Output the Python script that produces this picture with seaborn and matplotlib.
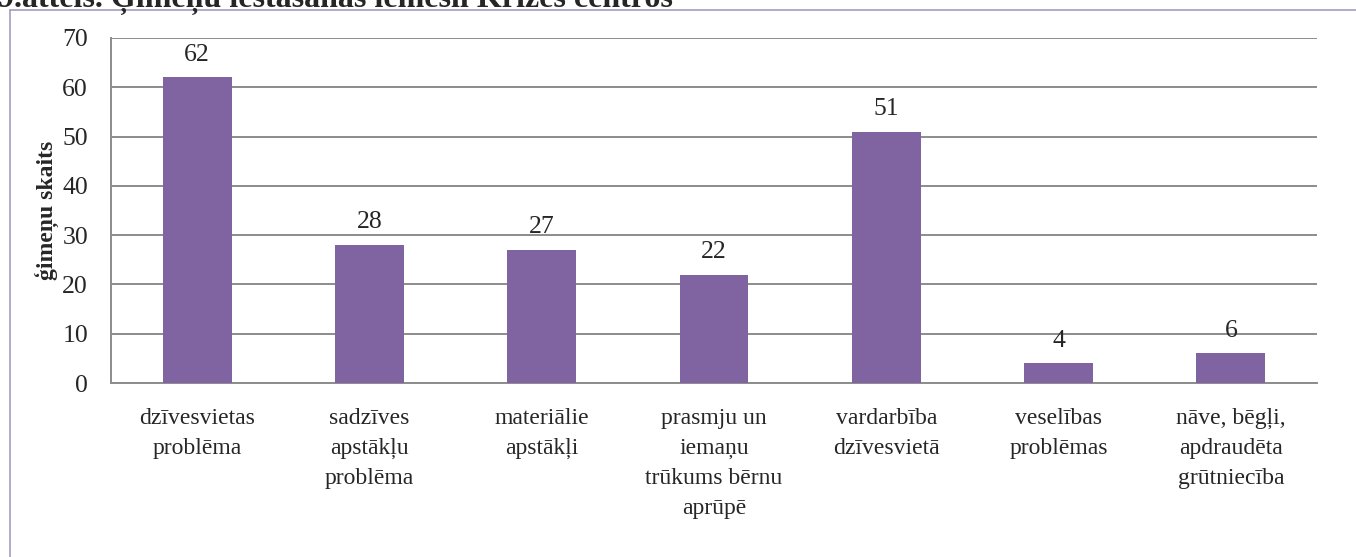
import matplotlib
matplotlib.use("Agg")
import matplotlib.pyplot as plt
import seaborn as sns
import pandas as pd
from matplotlib.lines import Line2D

categories = [
    "dzīvesvietas\nproblēma",
    "sadzīves\napstākļu\nproblēma",
    "materiālie\napstākļi",
    "prasmju un\niemaņu\ntrūkums bērnu\naprūpē",
    "vardarbība\ndzīvesvietā",
    "veselības\nproblēmas",
    "nāve, bēgļi,\napdraudēta\ngrūtniecība",
]
values = [62, 28, 27, 22, 51, 4, 6]
y_ticks = [0, 10, 20, 30, 40, 50, 60, 70]
title = "9.attēls. Ģimeņu iestāšanās iemesli Krīzes centros"
y_label = "ģimeņu skaits"

sns.set_theme(style="white")
plt.rcParams["font.family"] = ["Liberation Serif", "DejaVu Serif"]

W, H = 1356, 557
fig = plt.figure(figsize=(W / 100, H / 100), dpi=100)
ax = fig.add_axes([111 / W, 1 - 383 / H, (1317 - 111) / W, (383 - 38) / H])

df = pd.DataFrame({"cat": categories, "val": values})
sns.barplot(data=df, x="cat", y="val", color="#8064A2", saturation=1,
            width=0.4, linewidth=0, ax=ax, zorder=3)

ax.set_ylim(0, 70)
ax.set_yticks(y_ticks)
ax.set_yticklabels([str(t) for t in y_ticks], fontsize=18.5)
ax.set_xlabel("")
ax.set_ylabel(y_label, fontsize=17, fontweight="bold", labelpad=2.5)
ax.tick_params(axis="x", labelsize=17, length=0, pad=18)
ax.tick_params(axis="y", length=0, pad=16.5)
for lbl in ax.get_xticklabels():
    lbl.set_linespacing(1.55)

ax.grid(axis="y", color="#8C8C8C", lw=1.4, zorder=0)
ax.set_axisbelow(True)
for s in ["top", "right"]:
    ax.spines[s].set_visible(False)
for s in ["left", "bottom"]:
    ax.spines[s].set_color("#8C8C8C")
    ax.spines[s].set_linewidth(1.4)

for p, v in zip(ax.patches, values):
    ax.annotate(str(v), (p.get_x() + p.get_width() / 2, p.get_height()),
                xytext=(0, 12), textcoords="offset points",
                ha="center", va="baseline", fontsize=18.5)

# outer frame (left and top edges visible)
fig.add_artist(Line2D([9.5 / W, 9.5 / W], [0, 1 - 9.5 / H],
                      transform=fig.transFigure, color="#A59CC2", lw=1.2))
fig.add_artist(Line2D([9.5 / W, 1], [1 - 9.5 / H, 1 - 9.5 / H],
                      transform=fig.transFigure, color="#A59CC2", lw=1.2))

fig.text(-2 / W, 1 - 7 / H, title, ha="left", va="baseline",
         fontsize=23, fontweight="bold")

fig.savefig("out.png", dpi=100)
